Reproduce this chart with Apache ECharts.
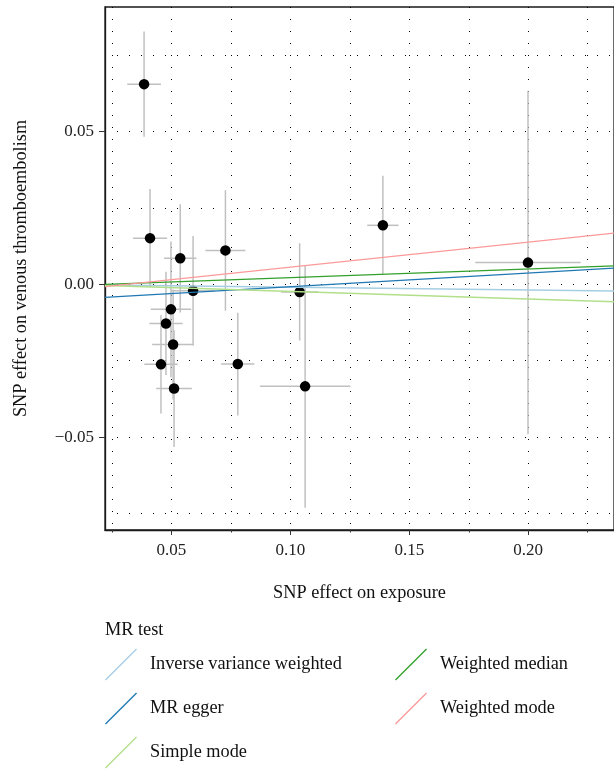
<!DOCTYPE html>
<html>
<head>
<meta charset="utf-8">
<script src="https://cdn.jsdelivr.net/npm/echarts@6/dist/echarts.min.js"></script>
<style>
  html, body { margin: 0; padding: 0; background: #fff; }
  #chart { width: 614px; height: 769px; }
</style>
</head>
<body>
<div id="chart"></div>
<script>
// SNP-level estimates: effect on exposure (x) and on venous thromboembolism (y), with standard errors
const snpExposure = [0.0385, 0.0410, 0.0537, 0.0727, 0.0591, 0.0498, 0.0477, 0.0507, 0.0456, 0.0511, 0.0779, 0.1039, 0.1062, 0.1389, 0.1999];
const snpOutcome  = [0.0655, 0.0151, 0.0085, 0.0111, -0.0021, -0.0082, -0.0128, -0.0197, -0.0262, -0.0341, -0.0261, -0.0025, -0.0334, 0.0193, 0.0071];
const seExposure  = [0.0071, 0.0072, 0.0068, 0.0084, 0.0091, 0.0085, 0.0070, 0.0088, 0.0070, 0.0075, 0.0070, 0.0078, 0.0190, 0.0066, 0.0222];
const seOutcome   = [0.0172, 0.0161, 0.0177, 0.0197, 0.0179, 0.0222, 0.0169, 0.0180, 0.0161, 0.0191, 0.0168, 0.0159, 0.0397, 0.0162, 0.0562];

// MR methods and their fitted lines (y = intercept + slope * x)
const methods    = ['Inverse variance weighted', 'MR egger', 'Simple mode', 'Weighted median', 'Weighted mode'];
const intercepts = [-0.000026, -0.005237, 0.000156, -0.00062, -0.002595];
const slopes     = [-0.00921, 0.044527, -0.02487, 0.028096, 0.08199];
const methodColors = ['#a6cee3', '#1f78b4', '#b2df8a', '#33a02c', '#fb9a99'];

// Axis ranges and tick positions
const xRange = [0.02207, 0.23606];
const yRange = [-0.0804, 0.09074];
const xGridTicks  = [0.025, 0.05, 0.075, 0.10, 0.125, 0.15, 0.175, 0.20, 0.225];
const xLabelTicks = [0.05, 0.10, 0.15, 0.20];
const yGridTicks  = [-0.075, -0.05, -0.025, 0, 0.025, 0.05, 0.075];
const yLabelTicks = [-0.05, 0, 0.05];

const FONT = "'Liberation Serif', 'DejaVu Serif', serif";
const INK = '#1a1a1a';
const fmt = v => (v < 0 ? '\u2212' : '') + Math.abs(v).toFixed(2);

const chart = echarts.init(document.getElementById('chart'), null, { renderer: 'canvas' });

// Error bars: horizontal (exposure SE) and vertical (outcome SE)
const errorSeries = {
  type: 'custom',
  xAxisIndex: 0,
  yAxisIndex: 0,
  z: 2,
  silent: true,
  data: snpExposure.map((x, i) => [x, snpOutcome[i], seExposure[i], seOutcome[i]]),
  encode: { x: 0, y: 1 },
  renderItem: function (params, api) {
    const x = api.value(0), y = api.value(1), sx = api.value(2), sy = api.value(3);
    const l = api.coord([x - sx, y]), r = api.coord([x + sx, y]);
    const t = api.coord([x, y + sy]), b = api.coord([x, y - sy]);
    const style = { stroke: '#c0c0c0', lineWidth: 1.5 };
    return {
      type: 'group',
      children: [
        { type: 'line', shape: { x1: l[0], y1: l[1], x2: r[0], y2: r[1] }, style: style },
        { type: 'line', shape: { x1: t[0], y1: t[1], x2: b[0], y2: b[1] }, style: style }
      ]
    };
  }
};

const pointSeries = {
  type: 'scatter',
  xAxisIndex: 0,
  yAxisIndex: 0,
  z: 3,
  symbolSize: 10.5,
  itemStyle: { color: '#000', opacity: 1 },
  data: snpExposure.map((x, i) => [x, snpOutcome[i]])
};

const lineSeries = methods.map((name, i) => ({
  type: 'line',
  name: name,
  xAxisIndex: 0,
  yAxisIndex: 0,
  z: 4,
  color: methodColors[i],
  showSymbol: false,
  symbol: 'none',
  silent: true,
  lineStyle: { color: methodColors[i], width: 1.3 },
  itemStyle: { color: methodColors[i], borderWidth: 0 },
  data: xRange.map(x => [x, intercepts[i] + slopes[i] * x])
}));

// Diagonal stroke used as legend key
const keyIcon = 'path://M0,33 L33,0 L34,1 L1,34 Z';

const legendCommon = {
  orient: 'vertical',
  top: 648.5,
  padding: 0,
  itemWidth: 34,
  itemHeight: 32,
  itemGap: 12,
  icon: keyIcon,
  selectedMode: false,
  textStyle: { fontFamily: FONT, fontSize: 18.3, color: '#111', padding: [0, 0, 0, 7] }
};

const option = {
  backgroundColor: '#fff',
  animation: false,
  title: {
    text: 'MR test',
    left: 105,
    top: 621,
    padding: 0,
    textStyle: { fontFamily: FONT, fontSize: 18.3, fontWeight: 'normal', color: '#111' }
  },
  legend: [
    Object.assign({}, legendCommon, { left: 105, data: methods.slice(0, 3) }),
    Object.assign({}, legendCommon, { left: 395, data: methods.slice(3) })
  ],
  grid: {
    left: 105, top: 7, right: -2, bottom: 239,
    show: true,
    borderColor: INK,
    borderWidth: 1.3,
    backgroundColor: 'transparent'
  },
  xAxis: [
    {
      type: 'value', position: 'bottom', min: xRange[0], max: xRange[1],
      axisLine: { show: true, onZero: false, lineStyle: { color: INK, width: 1.3 } },
      axisTick: { show: true, length: 2.5, customValues: xGridTicks, lineStyle: { color: '#333', width: 1 } },
      axisLabel: { show: false },
      splitLine: { show: true, lineStyle: { type: [1, 11], color: '#000', width: 1 } }
    },
    {
      type: 'value', position: 'bottom', min: xRange[0], max: xRange[1],
      axisLine: { show: false, onZero: false },
      axisTick: { show: true, length: 5, customValues: xLabelTicks, lineStyle: { color: '#333', width: 1 } },
      axisLabel: { customValues: xLabelTicks, formatter: fmt, margin: 12.5, fontFamily: FONT, fontSize: 17, color: '#222' },
      splitLine: { show: false },
      name: 'SNP effect on exposure',
      nameLocation: 'middle',
      nameGap: 54.5,
      nameTextStyle: { fontFamily: FONT, fontSize: 18.3, color: '#111' }
    }
  ],
  yAxis: [
    {
      type: 'value', position: 'left', min: yRange[0], max: yRange[1],
      axisLine: { show: true, onZero: false, lineStyle: { color: INK, width: 1.3 } },
      axisTick: { show: false, customValues: yGridTicks },
      axisLabel: { show: false },
      splitLine: { show: true, lineStyle: { type: [1, 11], color: '#000', width: 1 } }
    },
    {
      type: 'value', position: 'left', min: yRange[0], max: yRange[1],
      axisLine: { show: false, onZero: false },
      axisTick: { show: true, length: 6, customValues: yLabelTicks, lineStyle: { color: '#333', width: 1 } },
      axisLabel: { customValues: yLabelTicks, formatter: fmt, margin: 11, fontFamily: FONT, fontSize: 17, color: '#222' },
      splitLine: { show: false },
      name: 'SNP effect on venous thromboembolism',
      nameLocation: 'middle',
      nameGap: 75,
      nameTextStyle: { fontFamily: FONT, fontSize: 18.3, color: '#111' }
    }
  ],
  series: [errorSeries, pointSeries].concat(lineSeries)
};

chart.setOption(option);
</script>
</body>
</html>
